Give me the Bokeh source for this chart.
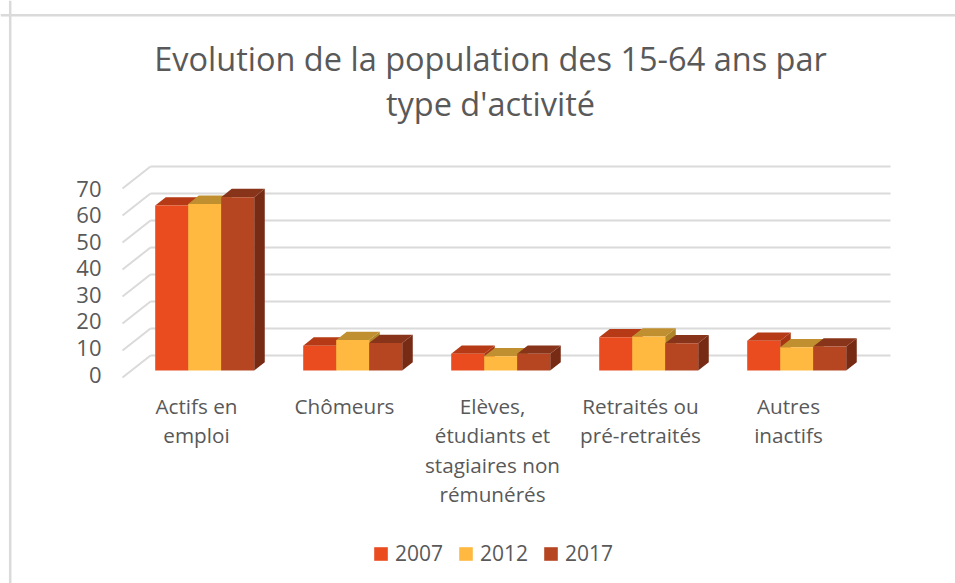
from bokeh.plotting import figure
from bokeh.models import Range1d, FixedTicker, Legend, LegendItem, Span
from bokeh.core.properties import value
from bokeh.embed import file_html
from bokeh.resources import INLINE

title = "Evolution de la population des 15-64 ans par\ntype d'activité"
categories = ["Actifs en\nemploi", "Chômeurs", "Elèves,\nétudiants et\nstagiaires non\nrémunérés",
              "Retraités ou\npré-retraités", "Autres\ninactifs"]
years = ["2007", "2012", "2017"]
v2007 = [61.1, 9.2, 6.2, 12.3, 11.0]
v2012 = [61.7, 11.3, 5.3, 12.6, 8.6]
v2017 = [64.2, 10.2, 6.2, 10.1, 8.9]
ticks = [0, 10, 20, 30, 40, 50, 60, 70]

front_col = ["#EA4C20", "#FFB940", "#B64622"]
top_col = ["#B53A15", "#C09030", "#88341A"]
side_col = ["#A83512", "#B08428", "#772B15"]
GRID = "#DADADA"
TEXT = "#595959"
FONT = "Open Sans"

# page geometry -> data scale
W, H = 955, 583
PX_BAND, PX_UNIT = 148.0, 2.7
X0_PAGE, Y0_PAGE = 122.0, 377.0
def xd(page): return (page - X0_PAGE) / PX_BAND
def yd(page): return (Y0_PAGE - page) / PX_UNIT

DX, DY = 28 / PX_BAND, 22 / PX_UNIT      # depth vector of the floor
D0, D1 = 7 / 22, 15.3 / 22               # bar depth span
BAR = 33 / PX_BAND
SHIFT = 8.2 / PX_BAND

p = figure(width=W, height=H, output_backend="svg", toolbar_location=None,
           x_range=Range1d(xd(0), xd(W)), y_range=Range1d(yd(H), yd(0)),
           min_border=0, min_border_left=0, min_border_right=0, min_border_top=0, min_border_bottom=0)
p.outline_line_color = None
p.grid.visible = False
p.xaxis.visible = False

# outer chart border
p.add_layout(Span(location=xd(9.7), dimension="height", line_color=GRID, line_width=2.5))
p.add_layout(Span(location=yd(14.7), dimension="width", line_color=GRID, line_width=2.5))

# walls
n = len(categories)
p.segment(x0=[0] * len(ticks), y0=ticks, x1=[DX] * len(ticks), y1=[t + DY for t in ticks],
          line_color=GRID, line_width=2)
p.segment(x0=[DX] * len(ticks), y0=[t + DY for t in ticks], x1=[n + DX] * len(ticks),
          y1=[t + DY for t in ticks], line_color=GRID, line_width=2)

# bars
items = []
for s, vals in enumerate([v2007, v2012, v2017]):
    lefts = [i + 0.5 + (s - 1.5) * BAR + SHIFT for i in range(n)]
    rights = [l + BAR for l in lefts]
    base = D0 * DY
    dx = (D1 - D0) * DX
    dy = (D1 - D0) * DY
    tops = [v + base for v in vals]
    p.patches(xs=[[r, r + dx, r + dx, r] for r in rights],
              ys=[[base, base + dy, t + dy, t] for t in tops],
              fill_color=side_col[s], line_color=None)
    p.patches(xs=[[l, l + dx, r + dx, r] for l, r in zip(lefts, rights)],
              ys=[[t, t + dy, t + dy, t] for t in tops],
              fill_color=top_col[s], line_color=None)
    q = p.quad(left=lefts, right=rights, bottom=[base] * n, top=tops,
               fill_color=front_col[s], line_color=None)
    items.append(LegendItem(label=years[s], renderers=[q]))

# value axis labels, on their own slightly tighter scale as in the picture
LAB = 186 / 70
p.extra_y_ranges = {"labels": Range1d((374 - H) / LAB, 374 / LAB)}
ax = p.yaxis[0]
ax.y_range_name = "labels"
ax.ticker = FixedTicker(ticks=ticks)
ax.fixed_location = xd(107)
ax.axis_line_color = None
ax.major_tick_line_color = None
ax.minor_tick_line_color = None
ax.major_label_standoff = 0
ax.major_label_text_font = FONT
ax.major_label_text_font_size = "22px"
ax.major_label_text_color = TEXT

# category labels
p.text(x=[i + 0.5 for i in range(n)], y=[yd(391.5)] * n, text=categories,
       text_font=value(FONT), text_font_size="20.7px", text_color=TEXT,
       text_align="center", text_baseline="top", text_line_height=1.05)

# title
p.text(x=[xd(490)], y=[yd(80)], text=[title], text_font=value(FONT), text_font_size="32.5px",
       text_color=TEXT, text_align="center", text_baseline="middle", text_line_height=1.0)

legend = Legend(items=items, orientation="horizontal", location=(372, H - 553 - 14),
                glyph_width=17, glyph_height=17, label_standoff=6, spacing=14,
                label_text_font=FONT, label_text_font_size="21px", label_text_color=TEXT,
                border_line_color=None, background_fill_alpha=0, padding=0, margin=0)
p.add_layout(legend, "center")

open("out.html", "w").write(file_html(p, INLINE))
